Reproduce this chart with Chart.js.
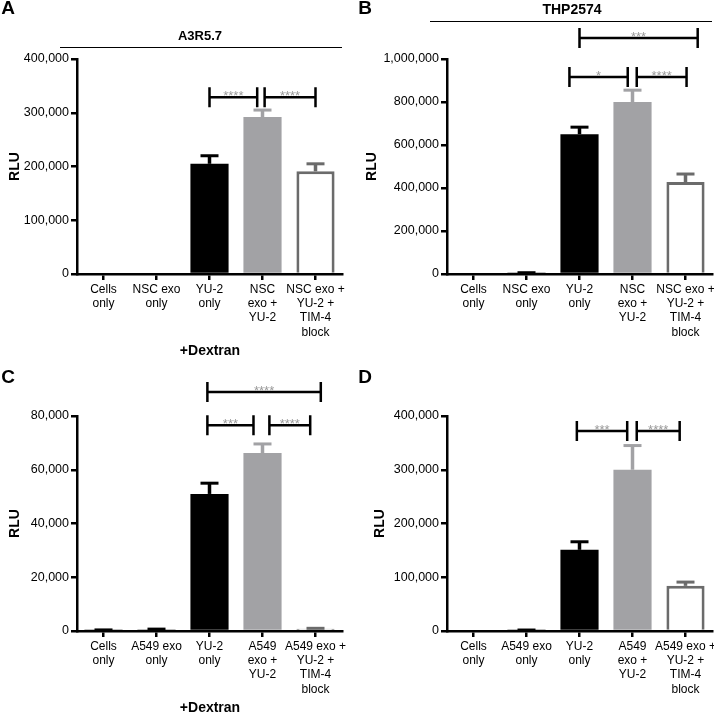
<!DOCTYPE html>
<html>
<head>
<meta charset="utf-8">
<script src="https://cdn.jsdelivr.net/npm/chart.js@4.4.1/dist/chart.umd.min.js"></script>
<style>
  body { margin: 0; background: #fff; }
  #fig { position: relative; width: 714px; height: 714px; }
  #fig canvas { position: absolute; }
</style>
</head>
<body>
<div id="fig">
  <canvas id="panelA" width="357" height="357" style="left:0;top:0"></canvas>
  <canvas id="panelB" width="357" height="357" style="left:357px;top:0"></canvas>
  <canvas id="panelC" width="357" height="357" style="left:0;top:357px"></canvas>
  <canvas id="panelD" width="357" height="357" style="left:357px;top:357px"></canvas>
</div>
<script>
// categories
const labelsNSC = [['Cells', 'only'], ['NSC exo', 'only'], ['YU-2', 'only'], ['NSC', 'exo +', 'YU-2'], ['NSC exo +', 'YU-2 +', 'TIM-4', 'block']];
const labelsA549 = [['Cells', 'only'], ['A549 exo', 'only'], ['YU-2', 'only'], ['A549', 'exo +', 'YU-2'], ['A549 exo +', 'YU-2 +', 'TIM-4', 'block']];

// mean RLU and SEM
const valuesA = [0, 0, 205000, 292000, 191000];
const errorsA = [0, 0, 15000, 13000, 14000];
const valuesB = [0, 4000, 650000, 800000, 428000];
const errorsB = [0, 2000, 33000, 55000, 37000];
const valuesC = [300, 600, 51000, 66200, 800];
const errorsC = [100, 100, 4000, 3400, 200];
const valuesD = [0, 1500, 151000, 300000, 84000];
const errorsD = [0, 300, 15000, 45000, 7000];

// y axis ticks
const ticksA = [0, 100000, 200000, 300000, 400000];
const ticksB = [0, 200000, 400000, 600000, 800000, 1000000];
const ticksC = [0, 20000, 40000, 60000, 80000];
const ticksD = [0, 100000, 200000, 300000, 400000];

// significance brackets: [from category, to category, height (RLU), stars]
const bracketsA = [[2, 2.9, 329000, '****'], [3.04, 4, 329000, '****']];
const bracketsB = [[1.81, 2.91, 916000, '*'], [3.08, 4.02, 916000, '****'], [2, 4.23, 1098000, '***']];
const bracketsC = [[1.96, 2.83, 76600, '***'], [3.13, 3.9, 76600, '****'], [1.96, 4.1, 88900, '****']];
const bracketsD = [[1.95, 2.9, 372000, '***'], [3.08, 3.89, 372000, '****']];

const FONT = '"Liberation Sans", Arial, Helvetica, sans-serif';
const fillColors = ['#000000', '#000000', '#000000', '#a2a2a5', '#ffffff'];
const edgeColors = ['#000000', '#000000', '#000000', '#a2a2a5', '#6b6b6b'];
const edgeWidths = [0, 0, 0, 0, 3];

// error bars, brackets and panel text
const extras = {
  id: 'extras',
  afterDatasetsDraw(chart, args, opts) {
    const ctx = chart.ctx;
    const xs = chart.scales.x, ys = chart.scales.y;
    const bars = chart.getDatasetMeta(0).data;
    ctx.save();
    ctx.lineCap = 'butt';
    bars.forEach((bar, i) => {
      const err = opts.errors[i];
      if (!err) return;
      const top = ys.getPixelForValue(opts.values[i] + err);
      ctx.strokeStyle = edgeColors[i];
      ctx.lineWidth = 3.5;
      ctx.beginPath();
      ctx.moveTo(bar.x, bar.y);
      ctx.lineTo(bar.x, top);
      ctx.stroke();
      ctx.lineWidth = 3;
      ctx.beginPath();
      ctx.moveTo(bar.x - 9, top);
      ctx.lineTo(bar.x + 9, top);
      ctx.stroke();
    });
    const x0 = xs.getPixelForValue(0), step = xs.getPixelForValue(1) - x0;
    opts.brackets.forEach(b => {
      const xa = x0 + b[0] * step, xb = x0 + b[1] * step;
      const y = ys.getPixelForValue(b[2]);
      ctx.strokeStyle = '#000';
      ctx.lineWidth = 2.5;
      ctx.beginPath();
      ctx.moveTo(xa, y); ctx.lineTo(xb, y);
      ctx.moveTo(xa, y - 10); ctx.lineTo(xa, y + 10);
      ctx.moveTo(xb, y - 10); ctx.lineTo(xb, y + 10);
      ctx.stroke();
      ctx.fillStyle = '#9a9a9a';
      ctx.font = '13px ' + FONT;
      ctx.textAlign = 'center';
      ctx.textBaseline = 'alphabetic';
      ctx.fillText(b[3], (xa + xb) / 2, y + 3);
    });
    ctx.fillStyle = '#000';
    ctx.textAlign = 'center';
    ctx.textBaseline = 'middle';
    ctx.font = 'bold 19px ' + FONT;
    ctx.fillText(opts.letter, 8, opts.letterY);
    ctx.save();
    ctx.translate(opts.rluX, (chart.chartArea.top + chart.chartArea.bottom) / 2);
    ctx.rotate(-Math.PI / 2);
    ctx.font = 'bold 14px ' + FONT;
    ctx.fillText('RLU', 0, 0);
    ctx.restore();
    if (opts.title) {
      ctx.font = 'bold ' + opts.title.size + 'px ' + FONT;
      ctx.fillText(opts.title.text, opts.title.x, opts.title.y);
      ctx.lineWidth = 1;
      ctx.beginPath();
      ctx.moveTo(opts.title.x0, opts.title.lineY);
      ctx.lineTo(opts.title.x1, opts.title.lineY);
      ctx.stroke();
    }
    if (opts.footer) {
      ctx.font = 'bold 14px ' + FONT;
      ctx.fillText(opts.footer, 210, 351);
    }
    ctx.restore();
  }
};

function makePanel(id, labels, values, errors, ticks, brackets, axisLeft, axisRight, extra) {
  new Chart(document.getElementById(id), {
    type: 'bar',
    data: {
      labels: labels,
      datasets: [{
        data: values,
        backgroundColor: fillColors,
        borderColor: edgeColors,
        borderWidth: edgeWidths,
        borderSkipped: 'bottom',
        barPercentage: 0.72,
        categoryPercentage: 1
      }]
    },
    options: {
      responsive: false,
      animation: false,
      layout: { padding: { top: 59, right: 357 - axisRight, left: 0, bottom: 0 } },
      plugins: {
        legend: { display: false },
        tooltip: { enabled: false },
        extras: Object.assign({ values: values, errors: errors, brackets: brackets }, extra)
      },
      scales: {
        x: {
          offset: true,
          grid: { offset: false, drawOnChartArea: false, drawTicks: true, tickLength: 6, color: '#000', lineWidth: 2.5 },
          border: { color: '#000', width: 2.5 },
          ticks: { color: '#000', font: { family: FONT, size: 12, lineHeight: 1.2 }, padding: 2, maxRotation: 0, autoSkip: false },
          afterFit: s => { s.height = 83; s.paddingLeft = 0; s.paddingRight = 0; }
        },
        y: {
          min: 0,
          max: ticks[ticks.length - 1],
          afterBuildTicks: s => { s.ticks = ticks.map(v => ({ value: v })); },
          grid: { drawOnChartArea: false, drawTicks: true, tickLength: 6, color: '#000', lineWidth: 2.5 },
          border: { color: '#000', width: 2.5 },
          ticks: { color: '#000', font: { family: FONT, size: 12.5 }, padding: 2, callback: v => v.toLocaleString('en-US') },
          afterFit: s => { s.width = axisLeft; s.paddingTop = 0; s.paddingBottom = 0; }
        }
      }
    },
    plugins: [extras]
  });
}

makePanel('panelA', labelsNSC, valuesA, errorsA, ticksA, bracketsA, 77, 342,
  { letter: 'A', letterY: 9, rluX: 15, footer: '+Dextran',
    title: { text: 'A3R5.7', size: 13, x: 200, y: 36, x0: 60, x1: 342, lineY: 47.5 } });
makePanel('panelB', labelsNSC, valuesB, errorsB, ticksB, bracketsB, 90, 355,
  { letter: 'B', letterY: 9, rluX: 15,
    title: { text: 'THP2574', size: 14, x: 215, y: 10, x0: 73, x1: 355, lineY: 21.5 } });
makePanel('panelC', labelsA549, valuesC, errorsC, ticksC, bracketsC, 77, 342,
  { letter: 'C', letterY: 21, rluX: 15, footer: '+Dextran' });
makePanel('panelD', labelsA549, valuesD, errorsD, ticksD, bracketsD, 90, 355,
  { letter: 'D', letterY: 21, rluX: 23 });
</script>
</body>
</html>
